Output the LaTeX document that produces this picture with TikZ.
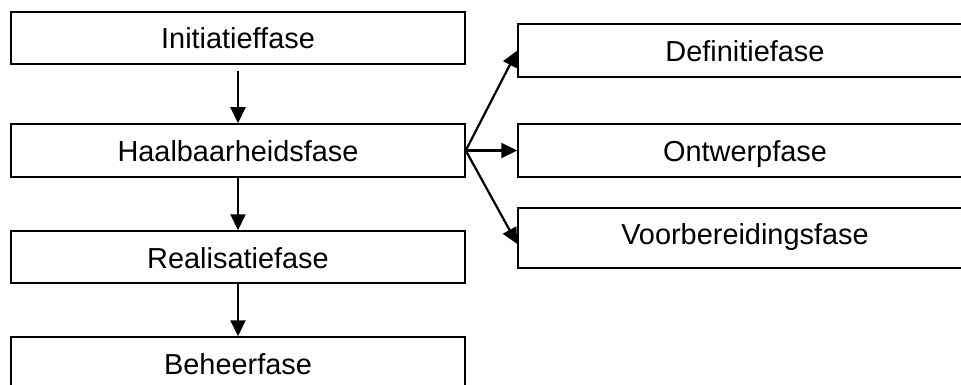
\documentclass[tikz,border=0pt]{standalone}
\usepackage{fontspec}
\setmainfont{Liberation Sans}
\usetikzlibrary{arrows.meta,calc}
\begin{document}
\begin{tikzpicture}[x=1pt,y=-1pt,
  phase/.style={draw,line width=1.5pt,minimum width=454pt,inner sep=0pt,text height=22pt,text depth=0pt,font=\fontsize{28.9}{30}\selectfont},
  conn/.style={line width=2.2pt,-{Triangle[length=16pt,width=15pt]}}]
\useasboundingbox (0,0) rectangle (961,385);
\clip (0,0) rectangle (961,385);
\node[phase,minimum height=52pt] (ini) at (238,38) {Initiatieffase};
\node[phase,minimum height=53pt] (haal) at (238,150.5) {Haalbaarheidsfase};
\node[phase,minimum height=52pt] (real) at (238,257) {Realisatiefase};
\node[phase,minimum height=53pt] (beh) at (238,363.5) {Beheerfase};
\node[phase,minimum height=53pt] (def) at (745,50.5) {Definitiefase};
\node[phase,minimum height=53pt] (ont) at (745,150.5) {Ontwerpfase};
\node[phase,minimum height=60pt,text depth=10pt] (voor) at (745,238) {Voorbereidingsfase};
\coordinate (vin) at ($(voor.west)+(0,6)$);
\draw[conn,shorten <=6pt] (ini.south) -- (haal.north);
\draw[conn] (haal.south) -- (real.north);
\draw[conn] (real.south) -- (beh.north);
\draw[conn] (haal.east) -- (def.west);
\draw[conn] (haal.east) -- (ont.west);
\draw[conn] (haal.east) -- (vin);
\end{tikzpicture}
\end{document}
